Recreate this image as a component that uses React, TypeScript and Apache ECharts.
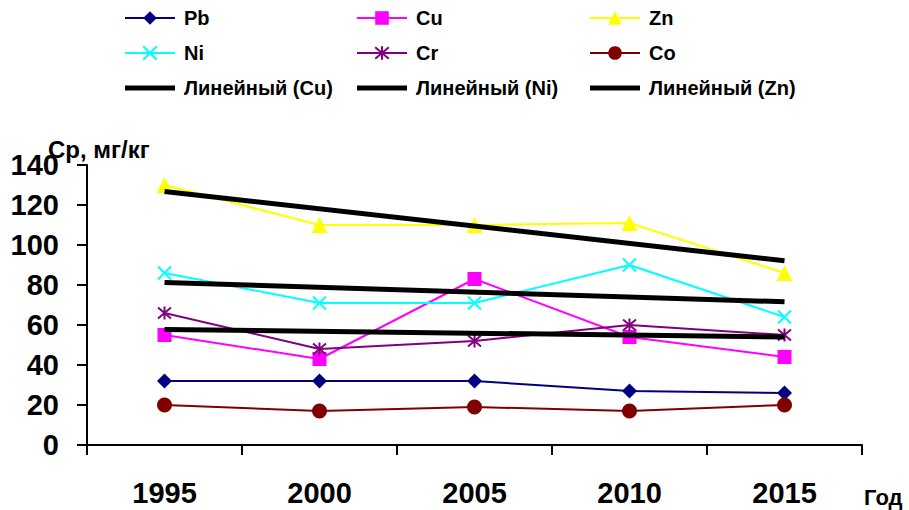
import React, { useEffect, useRef } from "react";
import * as echarts from "echarts";

const years = ["1995", "2000", "2005", "2010", "2015"];
const pb = [32, 32, 32, 27, 26];
const cu = [55, 43, 83, 54, 44];
const zn = [130, 110, 110, 111, 86];
const ni = [86, 71, 71, 90, 64];
const cr = [66, 48, 52, 60, 55];
const co = [20, 17, 19, 17, 20];
const trendCu = [57.8, null, null, null, 54];
const trendNi = [81.3, null, null, null, 71.6];
const trendZn = [126.8, null, null, null, 92.1];

const FONT = "'Liberation Sans', Arial, sans-serif";
const X_SYM = "path://M0,0L10,10M10,0L0,10";
const STAR_SYM = "path://M0,0L10,10M10,0L0,10M5,-1L5,11";
const BAR_ICON = "path://M0,0H50V5H0Z";

export default function App() {
  const ref = useRef<HTMLDivElement>(null);
  useEffect(() => {
    if (!ref.current) return;
    const chart = echarts.init(ref.current, undefined, { renderer: "svg" });
    const dataSeries = (name: string, data: number[], color: string, symbol: string, size: number, stroke = false) => ({
      name,
      type: "line",
      data,
      symbol,
      symbolSize: size,
      showSymbol: true,
      lineStyle: { color, width: 2 },
      itemStyle: stroke ? { color: "transparent", borderColor: color, borderWidth: 2 } : { color, borderWidth: 0 },
      z: 2,
    });
    const trend = (name: string, data: (number | null)[]) => ({
      name,
      type: "line",
      data,
      connectNulls: true,
      symbol: "none",
      lineStyle: { color: "#000", width: 5 },
      itemStyle: { color: "#000" },
      z: 5,
    });
    const legendBase = {
      orient: "vertical",
      top: 8,
      padding: 0,
      itemWidth: 50,
      itemHeight: 17,
      itemGap: 15,
      textStyle: { fontFamily: FONT, fontWeight: "bold", fontSize: 20, color: "#000", padding: [0, 0, 0, 4] },
    };
    chart.setOption({
      animation: false,
      backgroundColor: "#fff",
      legend: [
        { ...legendBase, left: 124, data: ["Pb", "Ni", { name: "Линейный (Cu)", icon: BAR_ICON }] },
        { ...legendBase, left: 356, data: ["Cu", "Cr", { name: "Линейный (Ni)", icon: BAR_ICON }] },
        { ...legendBase, left: 589, data: ["Zn", "Co", { name: "Линейный (Zn)", icon: BAR_ICON }] },
      ],
      grid: { left: 87, right: 47, top: 165, bottom: 65, containLabel: false },
      xAxis: {
        type: "category",
        data: years,
        boundaryGap: true,
        axisLine: { lineStyle: { color: "#000", width: 2 } },
        axisTick: { show: true, length: 10, lineStyle: { color: "#000", width: 2 } },
        axisLabel: { fontFamily: FONT, fontWeight: "bold", fontSize: 29, color: "#000", margin: 33 },
        splitLine: { show: false },
      },
      yAxis: {
        type: "value",
        min: 0,
        max: 140,
        interval: 20,
        axisLine: { show: true, lineStyle: { color: "#000", width: 2 } },
        axisTick: { show: true, length: 10, lineStyle: { color: "#000", width: 2 } },
        axisLabel: { fontFamily: FONT, fontWeight: "bold", fontSize: 29, color: "#000", margin: 28 },
        splitLine: { show: false },
      },
      graphic: [
        {
          type: "text",
          left: 48,
          top: 137,
          style: { text: "Ср, мг/кг", fontFamily: FONT, fontWeight: "bold", fontSize: 24, fill: "#000" },
        },
        {
          type: "text",
          left: 864,
          top: 486,
          style: { text: "Год", fontFamily: FONT, fontWeight: "bold", fontSize: 22, fill: "#000" },
        },
      ],
      series: [
        dataSeries("Pb", pb, "#000080", "diamond", 15),
        dataSeries("Cu", cu, "#FF00FF", "rect", 14),
        dataSeries("Zn", zn, "#FFFF00", "triangle", 16),
        dataSeries("Ni", ni, "#00FFFF", X_SYM, 13, true),
        dataSeries("Cr", cr, "#800080", STAR_SYM, 13, true),
        dataSeries("Co", co, "#800000", "circle", 15),
        trend("Линейный (Cu)", trendCu),
        trend("Линейный (Ni)", trendNi),
        trend("Линейный (Zn)", trendZn),
      ],
    });
    return () => chart.dispose();
  }, []);
  return <div ref={ref} style={{ position: "fixed", left: 0, top: 0, width: 909, height: 510 }} />;
}
